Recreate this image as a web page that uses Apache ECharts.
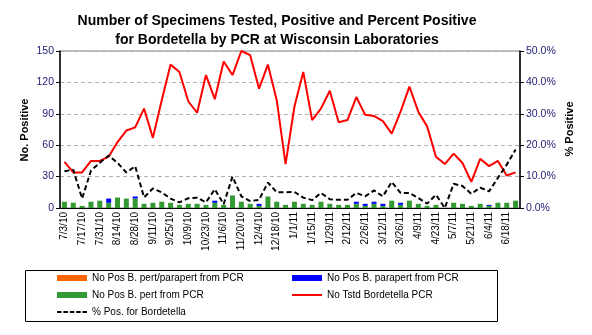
<!DOCTYPE html>
<html>
<head>
<meta charset="utf-8">
<script src="https://cdn.jsdelivr.net/npm/echarts@6/dist/echarts.min.js"></script>
<style>html,body{margin:0;padding:0;background:#fff}#c{width:592px;height:335px}</style>
</head>
<body>
<div id="c"></div>
<script>
var weeks = ['7/3/10','7/10/10','7/17/10','7/24/10','7/31/10','8/7/10','8/14/10','8/21/10','8/28/10','9/4/10',
  '9/11/10','9/18/10','9/25/10','10/2/10','10/9/10','10/16/10','10/23/10','10/30/10','11/6/10','11/13/10',
  '11/20/10','11/27/10','12/4/10','12/11/10','12/18/10','12/25/10','1/1/11','1/8/11','1/15/11','1/22/11',
  '1/29/11','2/5/11','2/12/11','2/19/11','2/26/11','3/5/11','3/12/11','3/19/11','3/26/11','4/2/11',
  '4/9/11','4/16/11','4/23/11','4/30/11','5/7/11','5/14/11','5/21/11','5/28/11','6/4/11','6/11/11',
  '6/18/11','6/25/11'];
var posPertParapert = [0,0,0,0,0,0,0,0,0,0,0,0,0,0,0,0,0,0,0,0,0,0,0,0,0,0,0,0,0,0,0,0,0,0,0,0,0,0,0,0,0,0,0,0,0,0,0,0,0,0,0,0];
var posPert = [6,5,2,6,7,5,10,9,9,4,5,6,5,3,4,4,3,5,3,12,6,4,2,11,6,3,6,4,3,6,4,3,3,4,2,4,2,7,3,7,4,2,3,0,5,4,2,4,2,5,5,7];
var posParapert = [0,0,0,0,0,4,0,0,2,0,0,0,0,0,0,0,0,2,0,0,0,0,2,0,0,0,0,0,0,0,0,0,0,2,2,2,2,0,2,0,0,0,0,0,0,0,0,0,1,0,0,0];
var tested = [44,34,34,45,45,49,63,74,77,95,67,103,137,130,102,91,127,104,140,127,150,146,114,137,103,42,97,130,84,95,112,82,84,106,89,88,83,71,92,116,92,78,49,42,52,43,25,47,40,45,31,34];
var pctPos = [11.7,12.2,3.0,11.9,14.4,16.7,14.4,11.3,13.3,3.4,6.2,5.0,3.0,1.8,3.1,3.3,1.8,6.0,1.2,10.0,3.7,2.2,2.6,8.1,5.0,5.0,5.1,3.3,2.5,4.8,2.8,2.6,2.6,4.8,3.7,5.6,3.7,8.3,4.8,4.8,3.2,1.4,4.2,0.0,7.7,7.0,4.5,6.5,5.3,9.6,13.8,18.6];
var leftTicks = [0,30,60,90,120,150];
var rightTicks = [0,10,20,30,40,50];

var names = {
  o: 'No Pos B. pert/parapert from PCR',
  b: 'No Pos B. parapert from PCR',
  g: 'No Pos B. pert from PCR',
  r: 'No Tstd Bordetella PCR',
  k: '% Pos. for Bordetella'
};
var FONT = 'Liberation Sans, Arial, sans-serif';
var dashIcon = 'path://M0,0h4.5v2h-4.5z M6.4,0h4.5v2h-4.5z M12.8,0h4.5v2h-4.5z M19.2,0h4.5v2h-4.5z M25.5,0h4.5v2h-4.5z';
function leg(name, left, top, icon, h, color) {
  return {
    data: [{name: name, icon: icon, itemStyle: {color: color}}], left: left, top: top, padding: 0, itemGap: 0,
    itemWidth: 30, itemHeight: h, itemTextGap: 2, selectedMode: false,
    textStyle: {fontFamily: FONT, fontSize: 10, color: '#000'}
  };
}
function axisName(text, x, y) {
  return {type: 'text', x: x, y: y, rotation: Math.PI / 2, silent: true,
    style: {text: text, font: 'bold 11px ' + FONT, fill: '#000', align: 'center', verticalAlign: 'middle'}};
}
var chart = echarts.init(document.getElementById('c'), null, {renderer: 'canvas'});
chart.setOption({
  animation: false,
  backgroundColor: '#fff',
  textStyle: {fontFamily: FONT},
  title: {
    text: 'Number of Specimens Tested, Positive and Percent Positive\nfor Bordetella by PCR at Wisconsin Laboratories',
    left: 272, top: 7, textAlign: 'center',
    textStyle: {fontFamily: FONT, fontSize: 14, fontWeight: 'bold', color: '#000', lineHeight: 19}
  },
  grid: {left: 60, right: 72, top: 51, bottom: 127, show: true, borderColor: '#808080', borderWidth: 1, backgroundColor: 'transparent'},
  graphic: [
    {type: 'rect', shape: {x: 25.5, y: 270.5, width: 472, height: 51}, style: {fill: 'none', stroke: '#000', lineWidth: 1}, silent: true},
    axisName('No. Positive', 25, 130),
    axisName('% Positive', 570, 129)
  ],
  legend: [
    leg(names.o, 57, 273, 'rect', 6, '#ff6600'),
    leg(names.b, 292, 273, 'rect', 6, '#0000ff'),
    leg(names.g, 57, 290, 'rect', 6, '#339933'),
    leg(names.r, 292, 290, 'rect', 2, '#ff0000'),
    leg(names.k, 57, 307, dashIcon, 2, '#000')
  ],
  xAxis: {
    type: 'category', data: weeks, boundaryGap: true,
    axisLine: {lineStyle: {color: '#000', width: 1}},
    axisTick: {interval: 0, length: 3, lineStyle: {color: '#000'}},
    axisLabel: {interval: 1, rotate: 90, fontSize: 10, color: '#000', margin: 4, fontFamily: FONT},
    splitLine: {show: false}
  },
  yAxis: [{
    type: 'value', min: 0, max: 150, interval: 30, position: 'left',
    axisLine: {show: true, lineStyle: {color: '#000', width: 1.5}},
    axisTick: {show: true, length: 4, lineStyle: {color: '#000'}},
    axisLabel: {fontSize: 10.5, color: '#1c1c6e', margin: 6, fontFamily: FONT},
    splitLine: {show: true, lineStyle: {color: '#b0b0b0', type: [4, 3], width: 1}}
  }, {
    type: 'value', min: 0, max: 50, interval: 10, position: 'right',
    axisLine: {show: true, lineStyle: {color: '#000', width: 1.5}},
    axisTick: {show: true, length: 4, lineStyle: {color: '#000'}},
    axisLabel: {fontSize: 10.5, color: '#1c1c6e', margin: 6, fontFamily: FONT,
      formatter: function (v) { return v.toFixed(1) + '%'; }},
    splitLine: {show: false}
  }],
  series: [
    {name: names.g, type: 'bar', stack: 'pos', data: posPert, barWidth: 5,
      itemStyle: {color: '#339933'}},
    {name: names.b, type: 'bar', stack: 'pos', data: posParapert, barWidth: 5,
      itemStyle: {color: '#0000ff'}},
    {name: names.o, type: 'bar', stack: 'pos', data: posPertParapert, barWidth: 5,
      itemStyle: {color: '#ff6600'}},
    {name: names.r, type: 'line', data: tested, symbol: 'none', z: 5,
      lineStyle: {color: '#ff0000', width: 2}, itemStyle: {color: '#ff0000'}},
    {name: names.k, type: 'line', yAxisIndex: 1, data: pctPos, symbol: 'none', z: 6,
      lineStyle: {color: '#000', width: 2, type: [5, 3]}, itemStyle: {color: '#000'}}
  ]
});
</script>
</body>
</html>
